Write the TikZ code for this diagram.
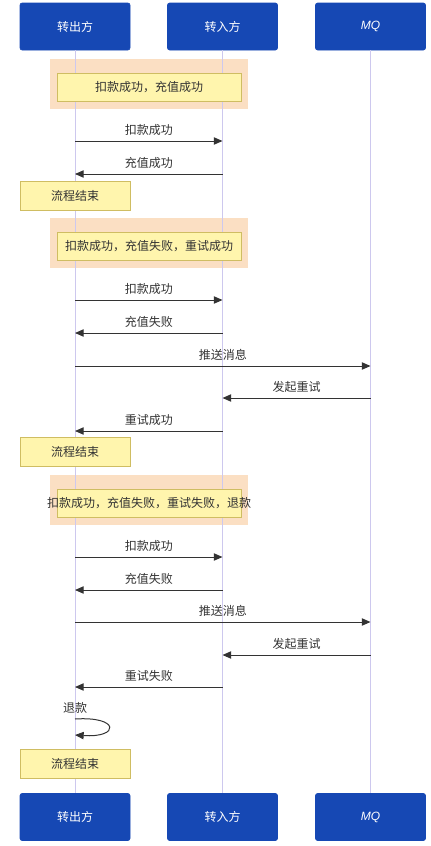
\documentclass[tikz,border=0pt]{standalone}
\usepackage{fontspec}
\setmainfont{Noto Sans CJK SC}
\newfontfamily\mqfont{Liberation Sans}
\usetikzlibrary{arrows.meta}

\definecolor{actorblue}{HTML}{1648B4}
\definecolor{lifeline}{HTML}{CDC8EE}
\definecolor{peach}{HTML}{FBDFC3}
\definecolor{noteyellow}{HTML}{FFF5AD}
\definecolor{noteedge}{HTML}{CFBD62}
\definecolor{textgray}{HTML}{333333}

\begin{document}
\begin{tikzpicture}[x=0.75pt,y=-0.75pt,
  txt/.style={font=\fontsize{9}{11}\selectfont, text=textgray},
  actor/.style={txt, text=white, fill=actorblue, draw=actorblue, rounded corners=1.5pt,
    minimum width=82.5pt, minimum height=35.25pt, inner sep=0pt},
  note/.style={txt, fill=noteyellow, draw=noteedge, line width=0.6pt,
    minimum width=138pt, minimum height=21pt, inner sep=0pt},
  endnote/.style={note, minimum width=82.5pt, minimum height=21.75pt},
  msg/.style={draw=textgray, line width=0.75pt, -{Triangle[length=6.5pt,width=5.5pt]}},
  lbl/.style={txt, midway, yshift=8.25pt}]
\useasboundingbox (0,0) rectangle (430,846);

% background rects
\fill[peach] (50,59) rectangle (248,109);
\fill[peach] (50,218) rectangle (248,268);
\fill[peach] (50,475) rectangle (248,525);

% actors
\node[actor] (out1) at (75,26.5) {转出方};
\node[actor] (in1) at (222.5,26.5) {转入方};
\node[actor] (mq1) at (370.5,26.5) {\mqfont\itshape MQ};
\node[actor] (out2) at (75,817) {转出方};
\node[actor] (in2) at (222.5,817) {转入方};
\node[actor] (mq2) at (370.5,817) {\mqfont\itshape MQ};

% lifelines
\draw[lifeline, line width=0.75pt] (out1) -- (out2);
\draw[lifeline, line width=0.75pt] (in1) -- (in2);
\draw[lifeline, line width=0.75pt] (mq1) -- (mq2);

% case 1
\node[note] (note1) at (149,87) {扣款成功，充值成功};
\coordinate (a1) at (75,141); \coordinate (b1) at (222.5,141);
\draw[msg] (a1) -- node[lbl] {扣款成功} (b1);
\coordinate (a2) at (75,174); \coordinate (b2) at (222.5,174);
\draw[msg] (b2) -- node[lbl] {充值成功} (a2);
\node[endnote] (end1) at (75,195.5) {流程结束};

% case 2
\node[note] (note2) at (149,246) {扣款成功，充值失败，重试成功};
\coordinate (a3) at (75,300); \coordinate (b3) at (222.5,300);
\draw[msg] (a3) -- node[lbl] {扣款成功} (b3);
\coordinate (a4) at (75,333); \coordinate (b4) at (222.5,333);
\draw[msg] (b4) -- node[lbl] {充值失败} (a4);
\coordinate (a5) at (75,366); \coordinate (c5) at (370.5,366);
\draw[msg] (a5) -- node[lbl] {推送消息} (c5);
\coordinate (b6) at (222.5,398); \coordinate (c6) at (370.5,398);
\draw[msg] (c6) -- node[lbl] {发起重试} (b6);
\coordinate (a7) at (75,431); \coordinate (b7) at (222.5,431);
\draw[msg] (b7) -- node[lbl] {重试成功} (a7);
\node[endnote] (end2) at (75,451.5) {流程结束};

% case 3
\node[note] (note3) at (149,503) {\makebox[0pt]{扣款成功，充值失败，重试失败，退款}};
\coordinate (a8) at (75,557); \coordinate (b8) at (222.5,557);
\draw[msg] (a8) -- node[lbl] {扣款成功} (b8);
\coordinate (a9) at (75,590); \coordinate (b9) at (222.5,590);
\draw[msg] (b9) -- node[lbl] {充值失败} (a9);
\coordinate (a10) at (75,622); \coordinate (c10) at (370.5,622);
\draw[msg] (a10) -- node[lbl] {推送消息} (c10);
\coordinate (b11) at (222.5,655); \coordinate (c11) at (370.5,655);
\draw[msg] (c11) -- node[lbl] {发起重试} (b11);
\coordinate (a12) at (75,687); \coordinate (b12) at (222.5,687);
\draw[msg] (b12) -- node[lbl] {重试失败} (a12);
\coordinate (r1) at (75,719); \coordinate (r2) at (75,735);
\draw[msg] (r1) .. controls (120,716) and (120,738) .. node[lbl, pos=0] {退款} (r2);
\node[endnote] (end3) at (75,763.5) {流程结束};
\end{tikzpicture}
\end{document}
